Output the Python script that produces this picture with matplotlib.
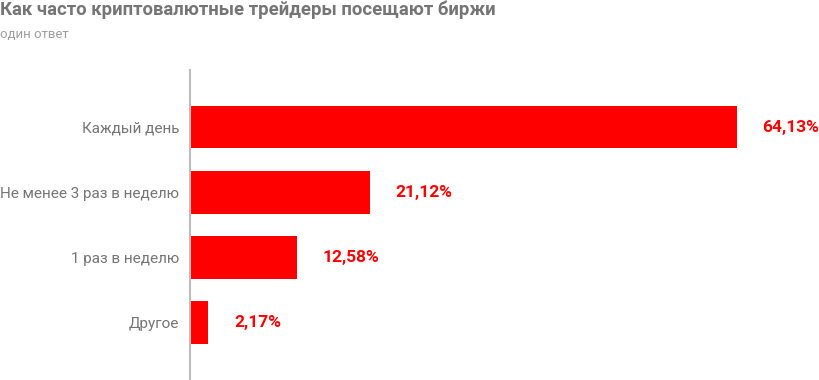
import matplotlib
matplotlib.use("Agg")
import matplotlib.pyplot as plt

plt.rcParams['font.family'] = ['Roboto', 'DejaVu Sans']

categories = ["Каждый день", "Не менее 3 раз в неделю", "1 раз в неделю", "Другое"]
values = [64.13, 21.12, 12.58, 2.17]
value_labels = ["64,13%", "21,12%", "12,58%", "2,17%"]

red = "#ff0000"
gray = "#757575"

fig = plt.figure(figsize=(8.2, 3.8), dpi=100)
ax = fig.add_axes([190 / 820, 0, 630 / 820, 310 / 380])

ypos = list(range(len(categories)))
ax.barh(ypos, values, height=0.66, color=red)
ax.set_xlim(0, 73.9)
ax.set_ylim(3.89, -0.877)

for y, v, lab in zip(ypos, values, value_labels):
    ax.text(v + 3.0, y, lab, color=red, fontsize=12.5, fontweight='bold',
            va='center', ha='left')

ax.set_yticks(ypos)
ax.set_yticklabels(categories, fontsize=11, color=gray)
ax.tick_params(axis='y', length=0, pad=8)
ax.set_xticks([])
for s in ['top', 'right', 'bottom']:
    ax.spines[s].set_visible(False)
ax.spines['left'].set_color('#bdbdbd')
ax.spines['left'].set_linewidth(1.5)

fig.text(0.0, 1 - 10 / 380, "Как часто криптовалютные трейдеры посещают биржи",
         fontsize=13.3, fontweight='bold', color=gray, va='center', ha='left')
fig.text(0.0, 1 - 34 / 380, "один ответ", fontsize=9.5, color="#9e9e9e",
         va='center', ha='left')

fig.savefig("out.png", dpi=100)
